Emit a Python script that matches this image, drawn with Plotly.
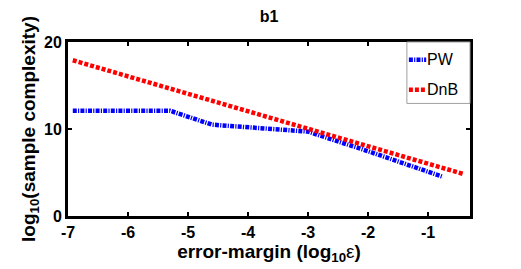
import plotly.graph_objects as go

# data
pw_x = [-6.92, -6.0, -5.3, -4.6, -4.0, -3.0, -2.0, -1.0, -0.75]
pw_y = [12.1, 12.1, 12.1, 10.5, 10.2, 9.7, 7.45, 5.15, 4.5]
dnb_x = [-6.92, -6.0, -5.0, -4.0, -3.0, -2.0, -1.0, -0.42]
dnb_y = [17.9, 16.05, 14.05, 12.05, 10.05, 8.0, 6.0, 4.85]
x_ticks = [-7, -6, -5, -4, -3, -2, -1]
x_tick_labels = ["-7", "-6", "-5", "-4", "-3", "-2", "-1"]
y_ticks = [0, 10, 20]
y_tick_labels = ["0", "10", "20"]
series_names = ["PW", "DnB"]

FONT = "Liberation Sans, Arial, sans-serif"
BLUE = "#0000ff"
RED = "#ff0000"
PW_DASH = "4px,1.2px,1.2px,1.2px"
DNB_DASH = "4px,2px"

fig = go.Figure()
fig.add_trace(go.Scatter(x=pw_x, y=pw_y, mode="lines", name=series_names[0],
                         line=dict(color=BLUE, width=4.5, dash=PW_DASH)))
fig.add_trace(go.Scatter(x=dnb_x, y=dnb_y, mode="lines", name=series_names[1],
                         line=dict(color=RED, width=4.5, dash=DNB_DASH)))

axis_common = dict(showline=True, linecolor="black", linewidth=3, mirror="ticks",
                   ticks="inside", ticklen=4, tickwidth=2, tickcolor="black",
                   showgrid=False, zeroline=False,
                   tickfont=dict(family=FONT, size=16, color="black", weight="bold"))

fig.update_xaxes(range=[-7, -0.3], tickvals=x_ticks, ticktext=x_tick_labels, **axis_common,
                 title=dict(text="<b>error-margin (log<sub>10</sub></b>ε<b>)</b>",
                            font=dict(family=FONT, size=19, color="black"), standoff=0))
fig.update_yaxes(range=[0, 20], tickvals=y_ticks, ticktext=y_tick_labels, **axis_common,
                 title=dict(text="<b>log<sub>10</sub>(sample complexity)</b>",
                            font=dict(family=FONT, size=19, color="black"), standoff=4))

# custom legend box (matches the compact reference legend)
shapes = [dict(type="rect", xref="paper", yref="paper", x0=0.843, x1=1.0, y0=0.647, y1=1.0,
               line=dict(color="#a0a0a0", width=1), fillcolor="white", layer="above")]
annotations = []
legend_rows = [(series_names[0], BLUE, PW_DASH, 0.898), (series_names[1], RED, DNB_DASH, 0.726)]
for name, col, dash, yy in legend_rows:
    shapes.append(dict(type="line", xref="paper", yref="paper", x0=0.848, x1=0.891, y0=yy, y1=yy,
                       line=dict(color=col, width=4.5, dash=dash), layer="above"))
    annotations.append(dict(text=name, xref="paper", yref="paper", x=0.889, y=yy,
                            xanchor="left", yanchor="middle", showarrow=False,
                            font=dict(family=FONT, size=16, color="black")))

fig.update_layout(
    width=521, height=269,
    margin=dict(l=68, r=51, t=42, b=53, autoexpand=False),
    paper_bgcolor="white", plot_bgcolor="white",
    showlegend=False,
    title=dict(text="<b>b1</b>", x=0.5, xref="paper", y=1 - 16 / 269, yref="container",
               xanchor="center", yanchor="middle",
               font=dict(family=FONT, size=16, color="black")),
    shapes=shapes, annotations=annotations,
)

fig.write_html("out.html", config={"displayModeBar": False},
               post_script="document.body.style.margin='0';document.body.style.overflow='hidden';")
